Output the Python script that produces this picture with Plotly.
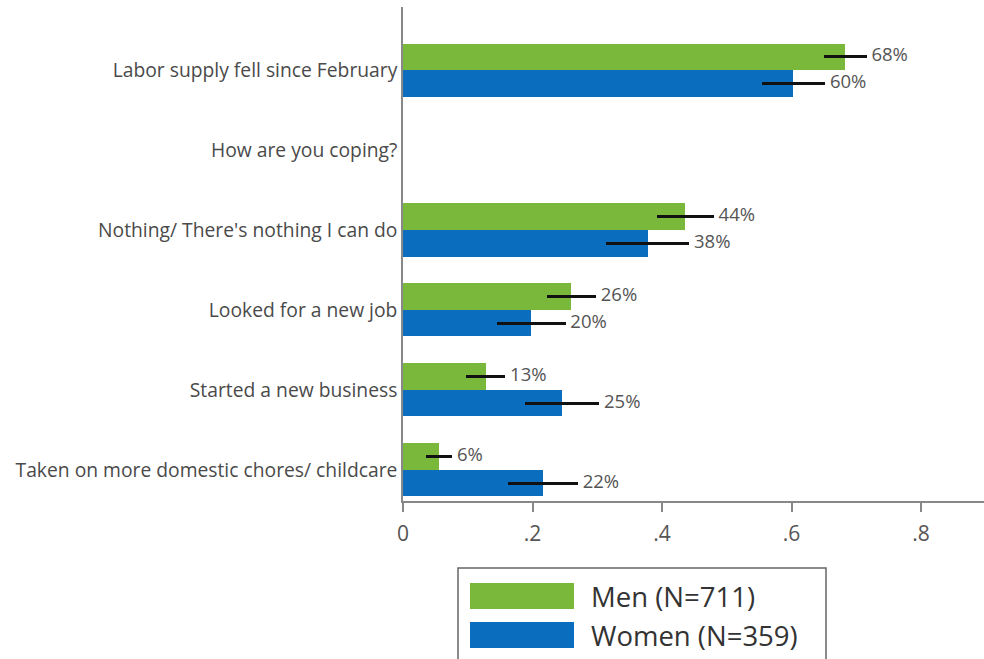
import plotly.graph_objects as go

categories = [
    "Labor supply fell since February",
    "How are you coping?",
    "Nothing/ There's nothing I can do",
    "Looked for a new job",
    "Started a new business",
    "Taken on more domestic chores/ childcare",
]
men_share = [0.683, None, 0.436, 0.260, 0.128, 0.056]
men_ci = [0.033, None, 0.044, 0.038, 0.030, 0.020]
women_share = [0.603, None, 0.378, 0.198, 0.246, 0.216]
women_ci = [0.049, None, 0.064, 0.053, 0.057, 0.054]
x_ticks = [0, 0.2, 0.4, 0.6, 0.8]
x_ticktext = ["0", ".2", ".4", ".6", ".8"]

GREEN = "#7AB83C"
BLUE = "#0A6DBE"
FONT = "Open Sans"

W, H = 984, 659
L, R, T, B = 403, 0, 7, 158
OFFSET = 0.167
BAR_W = 0.33

positions = [len(categories) - 1 - i for i in range(len(categories))]


def series(shares, cis, shift):
    ys, xs, es = [], [], []
    for pos, s, e in zip(positions, shares, cis):
        if s is None:
            continue
        ys.append(pos + shift)
        xs.append(s)
        es.append(e)
    return ys, xs, es


def px_x(x):
    return (x - L) / (W - L - R)


def px_y(y):
    return (H - B - y) / (H - T - B)


fig = go.Figure()

for name, shares, cis, color, shift in [
    ("Men (N=711)", men_share, men_ci, GREEN, OFFSET),
    ("Women (N=359)", women_share, women_ci, BLUE, -OFFSET),
]:
    ys, xs, es = series(shares, cis, shift)
    fig.add_trace(
        go.Bar(
            name=name,
            x=xs,
            y=ys,
            orientation="h",
            width=BAR_W,
            marker={"color": color, "line": {"width": 0}},
            error_x={"type": "data", "array": es, "color": "#111111", "thickness": 3, "width": 0},
            showlegend=False,
        )
    )
    fig.add_trace(
        go.Scatter(
            x=[x + e for x, e in zip(xs, es)],
            y=ys,
            mode="text",
            text=[f" {round(x * 100):.0f}%" for x in xs],
            textposition="middle right",
            textfont={"family": FONT, "size": 18.5, "color": "#555555"},
            showlegend=False,
            hoverinfo="skip",
        )
    )

# hand-drawn legend box to mimic the big swatches of the source
legend_items = [("Men (N=711)", GREEN, 583, 609), ("Women (N=359)", BLUE, 622, 648)]
fig.add_shape(
    type="rect", xref="paper", yref="paper",
    x0=px_x(458), x1=px_x(826), y0=px_y(568), y1=px_y(700),
    line={"color": "#666666", "width": 1.5}, fillcolor="rgba(0,0,0,0)",
)
for label, color, top, bottom in legend_items:
    fig.add_shape(
        type="rect", xref="paper", yref="paper",
        x0=px_x(470), x1=px_x(574), y0=px_y(bottom), y1=px_y(top),
        line={"width": 0}, fillcolor=color,
    )
    fig.add_annotation(
        xref="paper", yref="paper", x=px_x(589), y=px_y((top + bottom) / 2),
        text=label, showarrow=False, xanchor="left", yanchor="middle",
        font={"family": FONT, "size": 27.5, "color": "#333333"},
    )

fig.update_layout(
    width=W,
    height=H,
    margin={"l": L, "r": R, "t": T, "b": B, "pad": 0},
    paper_bgcolor="white",
    plot_bgcolor="white",
    font={"family": FONT, "color": "#444444"},
    xaxis={
        "range": [0, (W - L - R) / 647.5],
        "tickvals": x_ticks,
        "ticktext": x_ticktext,
        "ticks": "outside",
        "ticklen": 9,
        "tickwidth": 1.5,
        "tickcolor": "#888888",
        "ticklabelstandoff": 4,
        "showline": True,
        "linecolor": "#888888",
        "linewidth": 1.5,
        "showgrid": False,
        "zeroline": False,
        "tickfont": {"family": FONT, "size": 21, "color": "#555555"},
    },
    yaxis={
        "range": [-0.39, len(categories) - 1 + 0.79],
        "tickvals": positions,
        "ticktext": categories,
        "ticks": "",
        "showline": True,
        "linecolor": "#888888",
        "linewidth": 1.5,
        "showgrid": False,
        "zeroline": False,
        "tickfont": {"family": FONT, "size": 19.3, "color": "#4a4a4a"},
    },
    bargap=0,
)

fig.write_html(
    "out.html",
    config={"displayModeBar": False},
    post_script="document.body.style.margin='0';document.body.style.overflow='hidden';",
)
